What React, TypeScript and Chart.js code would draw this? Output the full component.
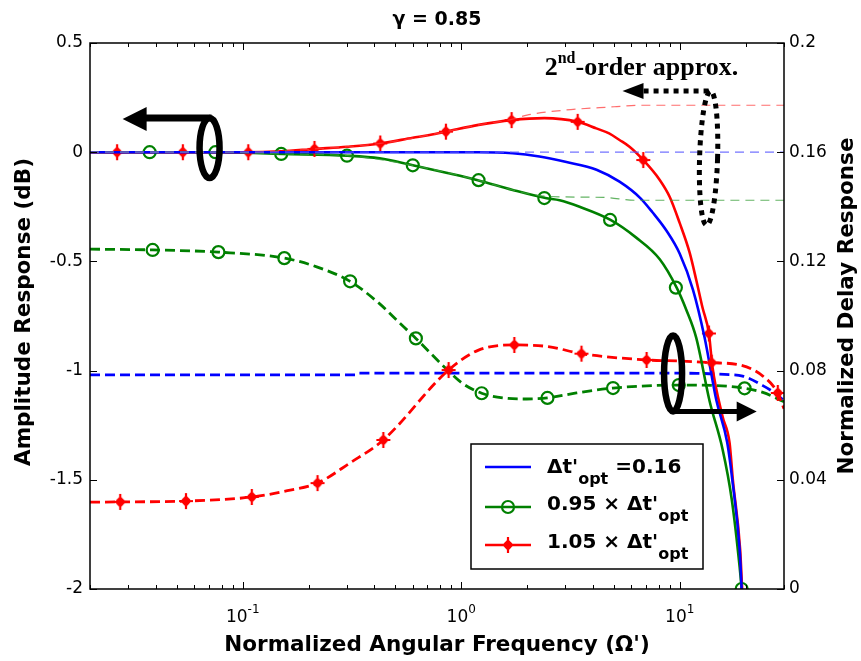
import { useEffect, useRef } from 'react';
import { Chart, registerables } from 'chart.js';

Chart.register(...registerables);

// ---------- axis ranges & tick labels ----------
const freqMin = 0.02;
const freqMax = 30;
const ampTicks = [-2, -1.5, -1, -0.5, 0, 0.5];
const delayTicks = [0, 0.04, 0.08, 0.12, 0.16, 0.2];
const freqLabelTicks = [0.1, 1, 10];
const freqLabelExp = ['-1', '0', '1'];

// ---------- amplitude response (solid, left axis) ----------
const blueAmpX = [0.02, 0.5, 1.2, 1.72, 2.28, 3.03, 4.16, 5.3, 6.6, 7.5, 8.7, 10.0, 11.5, 13.0, 14.7, 16.5, 17.4, 18.8, 19.2];
const blueAmpY = [0, 0, 0, -0.005, -0.02, -0.045, -0.08, -0.135, -0.21, -0.275, -0.36, -0.465, -0.63, -0.85, -1.135, -1.33, -1.5, -1.82, -2.0];

const greenAmpX = [0.02, 0.0375, 0.075, 0.152, 0.302, 0.423, 0.6, 0.854, 1.19, 1.72, 2.43, 2.82, 3.48, 4.82, 6.3, 8.1, 9.68, 10.7, 11.9, 13.7, 15.7, 17.3, 18.8, 19.2];
const greenAmpY = [0, 0, 0, -0.008, -0.016, -0.028, -0.06, -0.094, -0.128, -0.173, -0.21, -0.22, -0.25, -0.31, -0.39, -0.49, -0.62, -0.72, -0.85, -1.14, -1.36, -1.59, -1.9, -2.0];
const greenAmpMarkX = [0.0375, 0.075, 0.15, 0.3, 0.6, 1.2, 2.4, 4.8, 9.6, 19.2];
const greenAmpMarkY = [0, 0, -0.008, -0.016, -0.06, -0.128, -0.21, -0.31, -0.62, -2.0];

const redAmpX = [0.02, 0.1, 0.15, 0.213, 0.3, 0.426, 0.6, 0.716, 0.851, 1.2, 1.7, 2.4, 3.41, 4.15, 4.75, 5.3, 5.89, 6.81, 8.1, 9.0, 10.0, 11.1, 11.9, 12.7, 13.6, 14.1, 15.7, 16.9, 17.5, 18.9, 19.3];
const redAmpY = [0, 0, 0.004, 0.015, 0.025, 0.04, 0.066, 0.079, 0.094, 0.125, 0.147, 0.156, 0.139, 0.109, 0.086, 0.056, 0.025, -0.036, -0.127, -0.205, -0.325, -0.46, -0.585, -0.71, -0.83, -0.98, -1.21, -1.33, -1.5, -1.82, -2.0];
const redAmpMarkX = [0.0266, 0.0532, 0.106, 0.213, 0.426, 0.851, 1.7, 3.41, 6.81, 13.6];
const redAmpMarkY = [0, 0, 0, 0.015, 0.04, 0.094, 0.147, 0.139, -0.036, -0.83];

// ---------- 2nd-order approximations (thin dashed, left axis) ----------
const blue2X = [0.02, 30];
const blue2Y = [0, 0];
const green2X = [0.02, 0.075, 0.152, 0.302, 0.6, 1.19, 1.72, 2.45, 4.5, 6.3, 30];
const green2Y = [0, 0, -0.008, -0.016, -0.06, -0.128, -0.173, -0.202, -0.207, -0.22, -0.22];
const red2X = [0.02, 0.1, 0.213, 0.426, 0.851, 1.2, 1.7, 2.0, 3.0, 5.0, 6.5, 30];
const red2Y = [0, 0, 0.015, 0.04, 0.094, 0.125, 0.15, 0.17, 0.193, 0.208, 0.215, 0.215];

// ---------- normalized delay response (dashed, right axis) ----------
const blueDelayX = [0.02, 0.33, 0.34, 5, 12, 16, 19.4, 24, 27, 30];
const blueDelayY = [0.0784, 0.0784, 0.0791, 0.0791, 0.079, 0.0786, 0.078, 0.0745, 0.072, 0.069];

const greenDelayX = [0.02, 0.0387, 0.0774, 0.155, 0.218, 0.31, 0.42, 0.506, 0.62, 0.85, 1.01, 1.24, 1.55, 1.99, 2.48, 3.37, 4.95, 9.9, 14, 19.8, 24, 30];
const greenDelayY = [0.1245, 0.1242, 0.1234, 0.1212, 0.118, 0.1127, 0.1047, 0.0985, 0.0918, 0.0808, 0.0754, 0.0717, 0.07, 0.0696, 0.07, 0.0718, 0.0736, 0.0747, 0.0746, 0.0735, 0.072, 0.0686];
const greenDelayMarkX = [0.0387, 0.0774, 0.155, 0.31, 0.62, 1.24, 2.48, 4.95, 9.9, 19.8];
const greenDelayMarkY = [0.1242, 0.1234, 0.1212, 0.1127, 0.0918, 0.0717, 0.07, 0.0736, 0.0747, 0.0735];

const redDelayX = [0.02, 0.0275, 0.055, 0.11, 0.16, 0.22, 0.31, 0.44, 0.875, 1.2, 1.75, 2.5, 3.55, 7.05, 10, 14.0, 19, 24, 28.1, 30];
const redDelayY = [0.0318, 0.0319, 0.0322, 0.0337, 0.036, 0.0388, 0.0462, 0.0546, 0.0802, 0.0875, 0.0894, 0.0888, 0.0862, 0.0839, 0.0835, 0.0829, 0.082, 0.078, 0.0718, 0.066];
const redDelayMarkX = [0.0275, 0.055, 0.11, 0.22, 0.44, 0.875, 1.75, 3.55, 7.05, 14.0, 28.1];
const redDelayMarkY = [0.0319, 0.0322, 0.0337, 0.0388, 0.0546, 0.0802, 0.0894, 0.0862, 0.0839, 0.0829, 0.0718];

// ---------- texts ----------
const titleText = 'γ = 0.85';
const xTitle = "Normalized Angular Frequency (Ω')";
const yTitle = 'Amplitude Response (dB)';
const y2Title = 'Normalized Delay Response';
const legendMain = ["Δt'", "0.95 × Δt'", "1.05 × Δt'"];
const legendTail = [' =0.16', '', ''];
const legendSub = 'opt';

const BLUE = '#0000ff';
const GREEN = '#008000';
const RED = '#ff0000';
const SANS = '"DejaVu Sans", "Liberation Sans", Arial, sans-serif';
const SERIF = '"Liberation Serif", "DejaVu Serif", serif';

const pts = (xs: number[], ys: number[]) => xs.map((x, i) => ({ x, y: ys[i] }));

function makeStar(color: string) {
  const c = document.createElement('canvas');
  c.width = 16;
  c.height = 18;
  const g = c.getContext('2d')!;
  g.fillStyle = color;
  g.strokeStyle = color;
  // plump 4-point star
  g.beginPath();
  g.moveTo(8, 1);
  g.lineTo(10.2, 6.8);
  g.lineTo(15, 9);
  g.lineTo(10.2, 11.2);
  g.lineTo(8, 17);
  g.lineTo(5.8, 11.2);
  g.lineTo(1, 9);
  g.lineTo(5.8, 6.8);
  g.closePath();
  g.fill();
  g.beginPath();
  g.arc(8, 9, 4.2, 0, Math.PI * 2);
  g.fill();
  g.lineWidth = 2.2;
  g.beginPath();
  g.moveTo(8, 1);
  g.lineTo(8, 17);
  g.moveTo(1, 9);
  g.lineTo(15, 9);
  g.stroke();
  return c;
}

function xTickValues() {
  const out: number[] = [];
  for (let d = 0.01; d <= 10.0001; d *= 10) {
    for (let m = 1; m <= 9; m++) {
      const v = +(d * m).toPrecision(3);
      if (v >= freqMin - 1e-9 && v <= freqMax + 1e-9) out.push(v);
    }
  }
  return out;
}

function isPow10(v: number) {
  const l = Math.log10(v);
  return Math.abs(l - Math.round(l)) < 1e-6;
}

export default function App() {
  const ref = useRef<HTMLCanvasElement | null>(null);

  useEffect(() => {
    const canvas = ref.current;
    if (!canvas) return;
    const star = makeStar(RED);

    const decor = {
      id: 'decor',
      afterDraw(chart: any) {
        const ctx: CanvasRenderingContext2D = chart.ctx;
        const a = chart.chartArea;
        const xs = chart.scales.x;
        const ys = chart.scales.y;
        const y2 = chart.scales.y2;
        const X = (v: number) => xs.getPixelForValue(v);
        const Y = (v: number) => ys.getPixelForValue(v);
        const Y2 = (v: number) => y2.getPixelForValue(v);
        ctx.save();

        // frame
        ctx.strokeStyle = '#000';
        ctx.lineWidth = 1.5;
        ctx.strokeRect(a.left, a.top, a.right - a.left, a.bottom - a.top);

        // ticks
        ctx.lineWidth = 1;
        ctx.beginPath();
        for (const t of xs.ticks) {
          const px = Math.round(X(t.value)) + 0.5;
          const L = isPow10(t.value) ? 7 : 4;
          ctx.moveTo(px, a.bottom);
          ctx.lineTo(px, a.bottom - L);
          ctx.moveTo(px, a.top);
          ctx.lineTo(px, a.top + L);
        }
        for (const v of ampTicks) {
          const py = Math.round(Y(v)) + 0.5;
          ctx.moveTo(a.left, py);
          ctx.lineTo(a.left + 7, py);
        }
        for (const v of delayTicks) {
          const py = Math.round(Y2(v)) + 0.5;
          ctx.moveTo(a.right, py);
          ctx.lineTo(a.right - 7, py);
        }
        ctx.stroke();

        ctx.fillStyle = '#000';
        // x tick labels with superscript
        freqLabelTicks.forEach((v, i) => {
          const px = X(v);
          ctx.font = `17px ${SANS}`;
          const w1 = ctx.measureText('10').width;
          ctx.font = `12px ${SANS}`;
          const w2 = ctx.measureText(freqLabelExp[i]).width;
          const x0 = px - (w1 + w2) / 2;
          ctx.textAlign = 'left';
          ctx.textBaseline = 'alphabetic';
          ctx.font = `17px ${SANS}`;
          ctx.fillText('10', x0, a.bottom + 33);
          ctx.font = `12px ${SANS}`;
          ctx.fillText(freqLabelExp[i], x0 + w1, a.bottom + 24);
        });

        // titles
        ctx.textAlign = 'center';
        ctx.textBaseline = 'alphabetic';
        ctx.font = `bold 19px ${SANS}`;
        ctx.fillText(titleText, (a.left + a.right) / 2, 25);
        ctx.font = `bold 21.5px ${SANS}`;
        ctx.fillText(xTitle, (a.left + a.right) / 2, 651);
        ctx.save();
        ctx.translate(24, (a.top + a.bottom) / 2 - 4);
        ctx.rotate(-Math.PI / 2);
        ctx.textBaseline = 'middle';
        ctx.fillText(yTitle, 0, 0);
        ctx.restore();
        ctx.save();
        ctx.translate(847, (a.top + a.bottom) / 2 - 10);
        ctx.rotate(-Math.PI / 2);
        ctx.textBaseline = 'middle';
        ctx.fillText(y2Title, 0, 0);
        ctx.restore();

        // ---------- annotations ----------
        ctx.strokeStyle = '#000';
        ctx.fillStyle = '#000';
        // left loop + arrow (amplitude -> left axis)
        {
          const cx = X(0.0705), cy = Y(0.019);
          const rx = 10, ry = 30;
          ctx.lineWidth = 6.5;
          ctx.beginPath();
          ctx.ellipse(cx, cy, rx, ry, 0, 0, Math.PI * 2);
          ctx.stroke();
          const tip = X(0.0282);
          const ly = cy - ry;
          ctx.lineWidth = 7;
          ctx.beginPath();
          ctx.moveTo(cx + 2, ly);
          ctx.lineTo(tip + 20, ly);
          ctx.stroke();
          ctx.beginPath();
          ctx.moveTo(tip, ly + 1);
          ctx.lineTo(tip + 24, ly - 11);
          ctx.lineTo(tip + 24, ly + 13);
          ctx.closePath();
          ctx.fill();
        }
        // right loop + arrow (delay -> right axis)
        {
          const cx = X(9.32), cy = Y(-1.013);
          const rx = 9, ry = 38;
          ctx.lineWidth = 6.5;
          ctx.beginPath();
          ctx.ellipse(cx, cy, rx, ry, 0, 0, Math.PI * 2);
          ctx.stroke();
          const tip = X(22.5);
          const ly = cy + ry;
          ctx.lineWidth = 5;
          ctx.beginPath();
          ctx.moveTo(cx, ly);
          ctx.lineTo(tip - 16, ly);
          ctx.stroke();
          ctx.beginPath();
          ctx.moveTo(tip, ly);
          ctx.lineTo(tip - 20, ly - 10);
          ctx.lineTo(tip - 20, ly + 10);
          ctx.closePath();
          ctx.fill();
        }
        // dotted loop + arrow (2nd-order approx.)
        {
          const cx = X(13.55), cy = Y(-0.027);
          const rx = 9, ry = 67;
          ctx.lineWidth = 5;
          ctx.setLineDash([5, 5]);
          ctx.beginPath();
          ctx.ellipse(cx, cy, rx, ry, 0.03, 0, Math.PI * 2);
          ctx.stroke();
          const tip = X(5.47);
          const ly = cy - ry;
          ctx.beginPath();
          ctx.moveTo(cx, ly);
          ctx.lineTo(tip + 20, ly);
          ctx.stroke();
          ctx.setLineDash([]);
          ctx.beginPath();
          ctx.moveTo(tip, ly);
          ctx.lineTo(tip + 21, ly - 8);
          ctx.lineTo(tip + 21, ly + 8);
          ctx.closePath();
          ctx.fill();
          // label
          const tx = X(2.41), ty = Y(0.353);
          ctx.textAlign = 'left';
          ctx.textBaseline = 'alphabetic';
          ctx.font = `bold 26px ${SERIF}`;
          ctx.fillText('2', tx, ty);
          const w2 = ctx.measureText('2').width;
          ctx.font = `bold 16px ${SERIF}`;
          ctx.fillText('nd', tx + w2, ty - 12);
          const wnd = ctx.measureText('nd').width;
          ctx.font = `bold 26px ${SERIF}`;
          ctx.fillText('-order approx.', tx + w2 + wnd, ty);
        }

        // ---------- legend ----------
        {
          const lx = 471, ly = 444, lw = 232, lh = 125;
          ctx.fillStyle = '#fff';
          ctx.fillRect(lx, ly, lw, lh);
          ctx.strokeStyle = '#000';
          ctx.lineWidth = 1.5;
          ctx.strokeRect(lx, ly, lw, lh);
          const rows = [23, 63, 101];
          const colors = [BLUE, GREEN, RED];
          rows.forEach((dy, i) => {
            const yy = ly + dy;
            ctx.strokeStyle = colors[i];
            ctx.lineWidth = 2.5;
            ctx.beginPath();
            ctx.moveTo(lx + 14, yy);
            ctx.lineTo(lx + 60, yy);
            ctx.stroke();
            if (i === 1) {
              ctx.lineWidth = 2.2;
              ctx.beginPath();
              ctx.arc(lx + 37, yy, 6, 0, Math.PI * 2);
              ctx.stroke();
            }
            if (i === 2) {
              ctx.drawImage(star, lx + 37 - star.width / 2, yy - star.height / 2);
            }
            ctx.fillStyle = '#000';
            ctx.textAlign = 'left';
            ctx.textBaseline = 'alphabetic';
            const base = yy + (i === 0 ? 6 : 3);
            ctx.font = `bold 20px ${SANS}`;
            ctx.fillText(legendMain[i], lx + 76, base);
            const wm = ctx.measureText(legendMain[i]).width;
            ctx.font = `bold 16px ${SANS}`;
            ctx.fillText(legendSub, lx + 76 + wm, base + 11);
            const ws = ctx.measureText(legendSub).width;
            if (legendTail[i]) {
              ctx.font = `bold 20px ${SANS}`;
              ctx.fillText(legendTail[i], lx + 76 + wm + ws, base);
            }
          });
        }
        ctx.restore();
      },
    };

    const solid = (data: any, color: string, order: number) => ({
      data,
      yAxisID: 'y',
      borderColor: color,
      borderWidth: 2.6,
      pointRadius: 0,
      fill: false,
      cubicInterpolationMode: 'monotone',
      order,
    });
    const dashed = (data: any, color: string, order: number) => ({
      data,
      yAxisID: 'y2',
      borderColor: color,
      borderWidth: 2.8,
      borderDash: [10, 5],
      pointRadius: 0,
      fill: false,
      cubicInterpolationMode: 'monotone',
      order,
    });
    const thin = (data: any, color: string) => ({
      data,
      yAxisID: 'y',
      borderColor: color,
      borderWidth: 1.2,
      borderDash: [9, 6],
      pointRadius: 0,
      fill: false,
      cubicInterpolationMode: 'monotone',
      order: 0,
    });
    const marks = (data: any, axis: string, kind: 'circle' | 'star') => ({
      data,
      yAxisID: axis,
      showLine: false,
      pointStyle: kind === 'circle' ? 'circle' : star,
      pointRadius: kind === 'circle' ? 6 : 8,
      pointBorderColor: kind === 'circle' ? GREEN : RED,
      pointBackgroundColor: 'rgba(0,0,0,0)',
      pointBorderWidth: 2.2,
      order: 1,
    });

    const chart = new Chart(canvas, {
      type: 'line',
      data: {
        datasets: [
          dashed(pts(blueDelayX, blueDelayY), BLUE, 5),
          dashed(pts(greenDelayX, greenDelayY), GREEN, 5),
          dashed(pts(redDelayX, redDelayY), RED, 4),
          marks(pts(greenDelayMarkX, greenDelayMarkY), 'y2', 'circle'),
          marks(pts(redDelayMarkX, redDelayMarkY), 'y2', 'star'),
          solid(pts(greenAmpX, greenAmpY), GREEN, 3),
          solid(pts(redAmpX, redAmpY), RED, 2),
          solid(pts(blueAmpX, blueAmpY), BLUE, 1),
          marks(pts(greenAmpMarkX, greenAmpMarkY), 'y', 'circle'),
          marks(pts(redAmpMarkX, redAmpMarkY), 'y', 'star'),
          thin(pts(blue2X, blue2Y), 'rgba(90,90,255,0.85)'),
          thin(pts(green2X, green2Y), 'rgba(60,160,60,0.8)'),
          thin(pts(red2X, red2Y), 'rgba(255,60,60,0.75)'),
        ] as any,
      },
      options: {
        animation: false,
        responsive: false,
        events: [],
        layout: { padding: { top: 43, left: 0, right: 0, bottom: 0 } },
        plugins: {
          legend: { display: false },
          title: { display: false },
          tooltip: { enabled: false },
        },
        scales: {
          x: {
            type: 'logarithmic',
            min: freqMin,
            max: freqMax,
            position: 'bottom',
            grid: { display: false, drawTicks: false },
            border: { display: false },
            ticks: { display: false },
            afterBuildTicks: (s: any) => {
              s.ticks = xTickValues().map((v) => ({ value: v }));
            },
            afterFit: (s: any) => {
              s.height = 72;
            },
          },
          y: {
            type: 'linear',
            position: 'left',
            min: -2,
            max: 0.5,
            grid: { display: false, drawTicks: false },
            border: { display: false },
            ticks: {
              color: '#000',
              padding: 7,
              font: { family: SANS, size: 17 },
              callback: (v: any) => String(+Number(v).toFixed(2)),
            },
            afterBuildTicks: (s: any) => {
              s.ticks = ampTicks.map((v) => ({ value: v }));
            },
            afterFit: (s: any) => {
              s.width = 90;
            },
          },
          y2: {
            type: 'linear',
            position: 'right',
            min: 0,
            max: 0.2,
            grid: { display: false, drawTicks: false },
            border: { display: false },
            ticks: {
              color: '#000',
              padding: 5,
              font: { family: SANS, size: 17 },
              callback: (v: any) => String(+Number(v).toFixed(2)),
            },
            afterBuildTicks: (s: any) => {
              s.ticks = delayTicks.map((v) => ({ value: v }));
            },
            afterFit: (s: any) => {
              s.width = 77;
            },
          },
        },
      } as any,
      plugins: [decor],
    });

    return () => chart.destroy();
  }, []);

  return (
    <div style={{ position: 'fixed', left: 0, top: 0, width: 861, height: 661, background: '#fff' }}>
      <canvas ref={ref} width={861} height={661} style={{ display: 'block', width: 861, height: 661 }} />
    </div>
  );
}
